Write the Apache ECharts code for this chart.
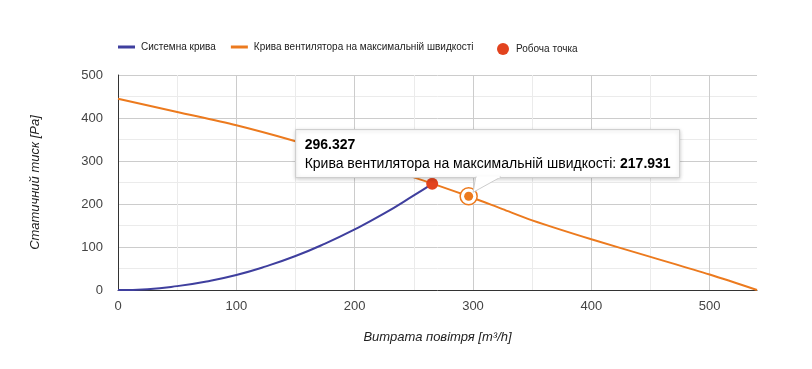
<!DOCTYPE html>
<html><head><meta charset="utf-8">
<script src="https://cdn.jsdelivr.net/npm/echarts@6/dist/echarts.min.js"></script>
<style>html,body{margin:0;padding:0;background:#fff}#c{width:812px;height:369px}</style>
</head><body><div id="c"></div>
<script>
// ---- data ----
const seriesNames = ['Системна крива', 'Крива вентилятора на максимальній швидкості', 'Робоча точка'];
const systemFlow     = [0, 25, 50, 75, 100, 125, 150, 175, 200, 225, 250, 265.5];
const systemPressure = [0, 2, 9, 20, 35, 55, 79, 108, 141, 178, 220, 247];
const fanFlow     = [0, 50, 100, 150, 200, 250, 296.327, 325, 350, 400, 450, 500, 540];
const fanPressure = [445, 414, 383, 346, 305, 262, 217.931, 188, 162, 118, 77, 36, 0];
const workingPoint = [265.5, 247];
const hoverPoint = [296.327, 217.931];
const xAxisName = 'Витрата повітря [m³/h]';
const yAxisName = 'Статичний тиск [Pa]';
const xRange = [0, 540];
const yRange = [0, 500];

const BLUE = '#3f3f9e', ORANGE = '#ec7a1e', RED = '#e2431e';
const FONT = '"Liberation Sans", Arial, sans-serif';

const zip = (a, b) => a.map((v, i) => [v, b[i]]);

const chart = echarts.init(document.getElementById('c'), null, {renderer: 'canvas'});
const option = {
  animation: false,
  textStyle: {fontFamily: FONT},
  grid: {left: 118, right: 55, top: 75, bottom: 79},
  legend: [
    {data: [seriesNames[0], seriesNames[1]], left: 118, top: 42, padding: 0, icon: 'rect', itemWidth: 17, itemHeight: 3, itemGap: 15,
     textStyle: {fontSize: 10, color: '#222', fontFamily: FONT, padding: [0, 0, 0, 1]}, selectedMode: false},
    {data: [seriesNames[2]], left: 497, top: 43, padding: 0, icon: 'circle', itemWidth: 12, itemHeight: 12,
     textStyle: {fontSize: 10, color: '#222', fontFamily: FONT, padding: [0, 0, 0, 2]}, selectedMode: false}
  ],
  xAxis: {
    type: 'value', min: xRange[0], max: xRange[1], interval: 100,
    name: xAxisName, nameLocation: 'middle', nameGap: 41,
    nameTextStyle: {fontStyle: 'italic', fontSize: 13, color: '#222', fontFamily: FONT},
    axisLine: {show: true, lineStyle: {color: '#333', width: 1}},
    axisTick: {show: false},
    axisLabel: {fontSize: 13, color: '#444', margin: 10, showMaxLabel: false, fontFamily: FONT},
    splitLine: {show: true, showMaxLine: false, lineStyle: {color: '#cccccc'}},
    minorTick: {show: false, splitNumber: 2},
    minorSplitLine: {show: true, lineStyle: {color: '#ebebeb'}}
  },
  yAxis: {
    type: 'value', min: yRange[0], max: yRange[1], interval: 100,
    name: yAxisName, nameLocation: 'middle', nameGap: 76,
    nameTextStyle: {fontStyle: 'italic', fontSize: 13, color: '#222', fontFamily: FONT},
    axisLine: {show: true, lineStyle: {color: '#333', width: 1}},
    axisTick: {show: false},
    axisLabel: {fontSize: 13, color: '#444', margin: 15, fontFamily: FONT},
    splitLine: {show: true, lineStyle: {color: '#cccccc'}},
    minorTick: {show: false, splitNumber: 2},
    minorSplitLine: {show: true, lineStyle: {color: '#ebebeb'}}
  },
  series: [
    {name: seriesNames[0], type: 'line', data: zip(systemFlow, systemPressure), smooth: true,
     showSymbol: false, lineStyle: {color: BLUE, width: 2}, itemStyle: {color: BLUE}, z: 3},
    {name: seriesNames[1], type: 'line', data: zip(fanFlow, fanPressure), smooth: 0.3,
     showSymbol: false, lineStyle: {color: ORANGE, width: 2}, itemStyle: {color: ORANGE}, z: 3},
    {name: seriesNames[2], type: 'scatter', data: [workingPoint], symbolSize: 12,
     itemStyle: {color: RED, opacity: 1}, z: 5},
    {name: 'hoverRing', type: 'scatter', data: [hoverPoint], symbolSize: 17,
     itemStyle: {color: '#fff', borderColor: ORANGE, borderWidth: 1.5, opacity: 1}, z: 6, silent: true},
    {name: 'hoverDot', type: 'scatter', data: [hoverPoint], symbolSize: 9,
     itemStyle: {color: ORANGE, opacity: 1}, z: 7, silent: true}
  ]
};
chart.setOption(option);

// tooltip callout anchored at the hovered data point
const p = chart.convertToPixel({gridIndex: 0}, hoverPoint);
const bx = p[0] - 173, by = p[1] - 66.7, bw = 384, bh = 48;
chart.setOption({
  graphic: [
    {type: 'rect', shape: {x: bx, y: by, width: bw, height: bh},
     style: {fill: '#fff', stroke: '#cccccc', lineWidth: 1, shadowBlur: 4, shadowColor: 'rgba(0,0,0,0.18)', shadowOffsetY: 1}, z: 100},
    {type: 'polygon', shape: {points: [[p[0] + 7, by + bh - 0.5], [p[0] + 32, by + bh - 0.5], [p[0] + 4.5, p[1] - 4]]},
     style: {fill: '#fff', stroke: '#cccccc', lineWidth: 1}, z: 101},
    {type: 'line', shape: {x1: p[0] + 8, y1: by + bh - 0.5, x2: p[0] + 31, y2: by + bh - 0.5},
     style: {stroke: '#fff', lineWidth: 2}, z: 102},
    {type: 'text', x: bx + 9, y: by + 16, z: 103,
     style: {text: String(hoverPoint[0]), font: 'bold 14px ' + FONT, fill: '#000', verticalAlign: 'middle'}},
    {type: 'text', x: bx + 9, y: by + 35, z: 103,
     style: {text: '{a|' + seriesNames[1] + ': }{b|' + hoverPoint[1] + '}', verticalAlign: 'middle',
       rich: {a: {font: '14px ' + FONT, fill: '#000'}, b: {font: 'bold 14px ' + FONT, fill: '#000'}}}}
  ]
});
</script></body></html>
